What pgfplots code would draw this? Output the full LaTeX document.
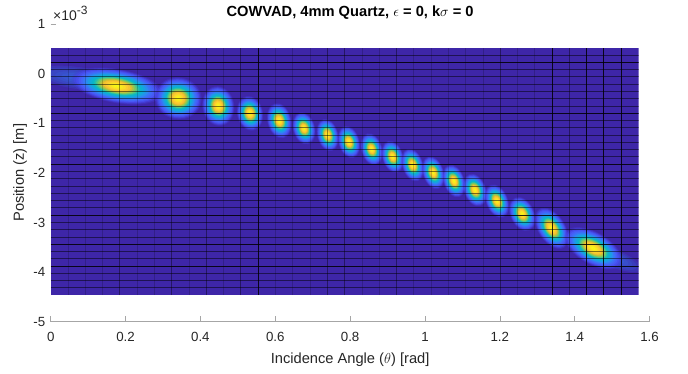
\documentclass[border=0pt]{standalone}
\usepackage{fontspec}
\setmainfont{Liberation Sans}
\usepackage{pgfplots}
\pgfplotsset{compat=1.18}

\definecolor{bgc}{rgb}{0.2422,0.1504,0.6603}
\definecolor{tailc}{rgb}{0.20,0.50,0.96}
% parula-like levels, outer to inner
\definecolor{L01}{rgb}{0.27,0.24,0.86}
\definecolor{L02}{rgb}{0.275,0.28,0.91}
\definecolor{L03}{rgb}{0.28,0.31,0.94}
\definecolor{L04}{rgb}{0.28,0.35,0.96}
\definecolor{L05}{rgb}{0.26,0.40,0.97}
\definecolor{L06}{rgb}{0.22,0.46,0.97}
\definecolor{L07}{rgb}{0.17,0.54,0.95}
\definecolor{L08}{rgb}{0.11,0.61,0.90}
\definecolor{L09}{rgb}{0.06,0.67,0.85}
\definecolor{L10}{rgb}{0.04,0.71,0.79}
\definecolor{L11}{rgb}{0.14,0.75,0.67}
\definecolor{L12}{rgb}{0.33,0.78,0.50}
\definecolor{L13}{rgb}{0.50,0.79,0.37}
\definecolor{L14}{rgb}{0.68,0.77,0.27}
\definecolor{L15}{rgb}{0.86,0.745,0.18}
\definecolor{L16}{rgb}{0.97,0.76,0.19}
\definecolor{L17}{rgb}{0.99,0.80,0.19}
\definecolor{L18}{rgb}{0.985,0.87,0.145}
\definecolor{L19}{rgb}{0.975,0.92,0.115}
\definecolor{L20}{rgb}{0.977,0.965,0.09}

\newcommand\tickfont{\fontsize{13.3}{16}\selectfont}
\newcommand\labfont{\fontsize{14.67}{17}\selectfont}
% rotated filled ellipse at the current marker position: {colour}{opacity}{scale}
\newcommand\blobring[3]{%
  \pgfscope
  \pgfsetfillcolor{#1}\pgfsetfillopacity{#2}%
  \pgfpathellipse{\pgfpointorigin}{\pgfpointpolar{\bang}{#3*\ba pt}}{\pgfpointpolar{\bang+90}{#3*\bb pt}}%
  \pgfusepath{fill}%
  \endpgfscope}

\begin{document}
\begin{tikzpicture}[x=1pt,y=1pt]
% ---------- frame axis (ticks, labels, title) ----------
\begin{axis}[name=frame, at={(0pt,0pt)}, anchor=south west,
  scale only axis, width=598.8pt, height=297.8pt,
  xmin=0, xmax=1.6, ymin=-5, ymax=1,
  axis x line*=bottom, axis y line*=left,
  y axis line style={draw=none},
  x axis line style={draw=black!35, line width=0.6pt},
  xtick={0,0.2,0.4,0.6,0.8,1,1.2,1.4,1.6},
  xticklabels={0,0.2,0.4,0.6,0.8,1,1.2,1.4,1.6},
  ytick={-5,-4,-3,-2,-1,0,1},
  yticklabels={-5,-4,-3,-2,-1,0,1},
  tick align=inside, major tick length=5.5pt,
  every tick/.style={draw=black!35, line width=0.6pt},
  tick label style={font=\tickfont, text=black!85, inner sep=0pt},
  xticklabel style={anchor=base, yshift=-20pt},
  yticklabel style={anchor=east, xshift=-5.2pt},
  title={\textbf{COWVAD, 4mm Quartz, $\epsilon$ = 0, k$\sigma$ = 0}},
  title style={at={(axis description cs:0.5,1)}, anchor=base, yshift=1.2pt, font=\labfont, inner sep=0pt},
  xlabel={Incidence Angle ($\theta$) [rad]},
  xlabel style={at={(axis description cs:0.5,0)}, anchor=base, yshift=-41.6pt, font=\labfont, text=black!85, inner sep=0pt},
  ylabel={Position (z) [m]},
  ylabel style={at={(axis description cs:-0.0513,0.5)}, anchor=center, font=\labfont, text=black!85, inner sep=0pt},
  clip=false,
]
\node[anchor=base west, inner sep=0pt, text=black!85, font=\fontsize{14}{16}\selectfont] at (axis cs:0.006,1.064) {×10\raisebox{6pt}{\fontsize{12}{14}\selectfont -3}};
\end{axis}

% ---------- image axis ----------
\begin{axis}[at={(0pt,26.55pt)}, anchor=south west,
  scale only axis, width=587.87pt, height=247.42pt,
  xmin=0, xmax=1.5708, ymin=-4.465, ymax=0.52, hide axis,
  clip marker paths=true]
% background of the surface
\addplot[draw=none, fill=bgc] coordinates {(0,-4.465) (1.5708,-4.465) (1.5708,0.52) (0,0.52)};
% faint tails
\addplot[scatter, only marks, mark=*, mark size=0pt, draw=none, fill=none,
  visualization depends on={value \thisrow{a}\as\ba},
  visualization depends on={value \thisrow{b}\as\bb},
  visualization depends on={value \thisrow{ang}\as\bang},
  scatter/@pre marker code/.code={%
    \blobring{tailc}{0.14}{1}\blobring{tailc}{0.14}{0.85}\blobring{tailc}{0.14}{0.7}%
    \blobring{tailc}{0.14}{0.55}\blobring{tailc}{0.14}{0.4}\blobring{tailc}{0.14}{0.25}},
  scatter/@post marker code/.code={}]
 table {
 x y a b ang
 0.0729 -0.091 42 11 -8
 1.5025 -3.717 30 9 -22
 };
% beams
\addplot[scatter, only marks, mark=*, mark size=0pt, draw=none, fill=none,
  visualization depends on={value \thisrow{a}\as\ba},
  visualization depends on={value \thisrow{b}\as\bb},
  visualization depends on={value \thisrow{ang}\as\bang},
  scatter/@pre marker code/.code={%
    \blobring{L01}{0.35}{1}\blobring{L02}{0.55}{0.95}\blobring{L03}{0.8}{0.9}%
    \blobring{L04}{1}{0.85}\blobring{L05}{1}{0.8}\blobring{L06}{1}{0.75}%
    \blobring{L07}{1}{0.7}\blobring{L08}{1}{0.65}\blobring{L09}{1}{0.6}%
    \blobring{L10}{1}{0.55}\blobring{L11}{1}{0.5}\blobring{L12}{1}{0.46}%
    \blobring{L13}{1}{0.42}\blobring{L14}{1}{0.38}\blobring{L15}{1}{0.34}%
    \blobring{L16}{1}{0.3}\blobring{L17}{1}{0.25}\blobring{L18}{1}{0.2}%
    \blobring{L19}{1}{0.14}\blobring{L20}{1}{0.08}},
  scatter/@post marker code/.code={}]
 table {
 x y a b ang
 0.1771 -0.252 46 17 -10
 0.3409 -0.500 23.5 21 -10
 0.4478 -0.655 20 16 -80
 0.5325 -0.802 17.5 13 -78
 0.6108 -0.951 18 12 -76
 0.6768 -1.104 16.5 11 -75
 0.7401 -1.239 16.5 10.5 -75
 0.7970 -1.380 16.5 10.5 -74
 0.8577 -1.527 16.5 10.5 -74
 0.9138 -1.676 16.5 10.5 -73
 0.9672 -1.843 17 10.5 -72
 1.0223 -1.998 17 10.5 -72
 1.0776 -2.166 17 10.5 -71
 1.1337 -2.347 17 11 -70
 1.1925 -2.569 17.5 11 -68
 1.2601 -2.830 18 12 -65
 1.3386 -3.119 23 13.5 -57
 1.4498 -3.521 32 16 -30
 };
% mesh lines
\pgfplotsinvokeforeach{0.3734,0.0801,-0.0665,-0.2131,-0.3597,-0.5063,-0.6530,-0.9462,-1.0928,-1.2394,-1.3861,-1.5327,-1.6793,-1.9725,-2.1192,-2.2658,-2.4124,-2.5590,-2.7056,-2.9989,-3.1455,-3.2921,-3.5854,-3.7320,-4.0252,-4.1718,-4.3185}{%
  \addplot[draw=black, draw opacity=0.5, line width=0.8pt] coordinates {(0,#1) (1.5708,#1)};}
\pgfplotsinvokeforeach{0.2268,-0.7996,-1.8259,-2.8523,-3.4387,-3.8786}{%
  \addplot[draw=black, draw opacity=0.85, line width=1pt] coordinates {(0,#1) (1.5708,#1)};}
\pgfplotsinvokeforeach{0.0462,0.0924,0.1386,0.2310,0.2772,0.3696,0.4620,0.6006,0.6468,0.6930,0.8316,0.8778,0.9702,1.0164,1.0626,1.1088,1.1550,1.2474,1.2936}{%
  \addplot[draw=black, draw opacity=0.18, line width=0.8pt] coordinates {(#1,-4.465) (#1,0.52)};}
\pgfplotsinvokeforeach{0.1848,0.3234,0.4158,0.5082,0.7392,0.7854,0.9240,1.2012,1.3860}{%
  \addplot[draw=black, draw opacity=0.4, line width=0.8pt] coordinates {(#1,-4.465) (#1,0.52)};}
\pgfplotsinvokeforeach{0.5544,1.3398,1.4322,1.4784,1.5246}{%
  \addplot[draw=black, draw opacity=0.85, line width=1pt] coordinates {(#1,-4.465) (#1,0.52)};}
\end{axis}
\pgfresetboundingbox
\path[use as bounding box] (-50.7pt,-51.3pt) rectangle (637.3pt,321.7pt);
\end{tikzpicture}
\end{document}
